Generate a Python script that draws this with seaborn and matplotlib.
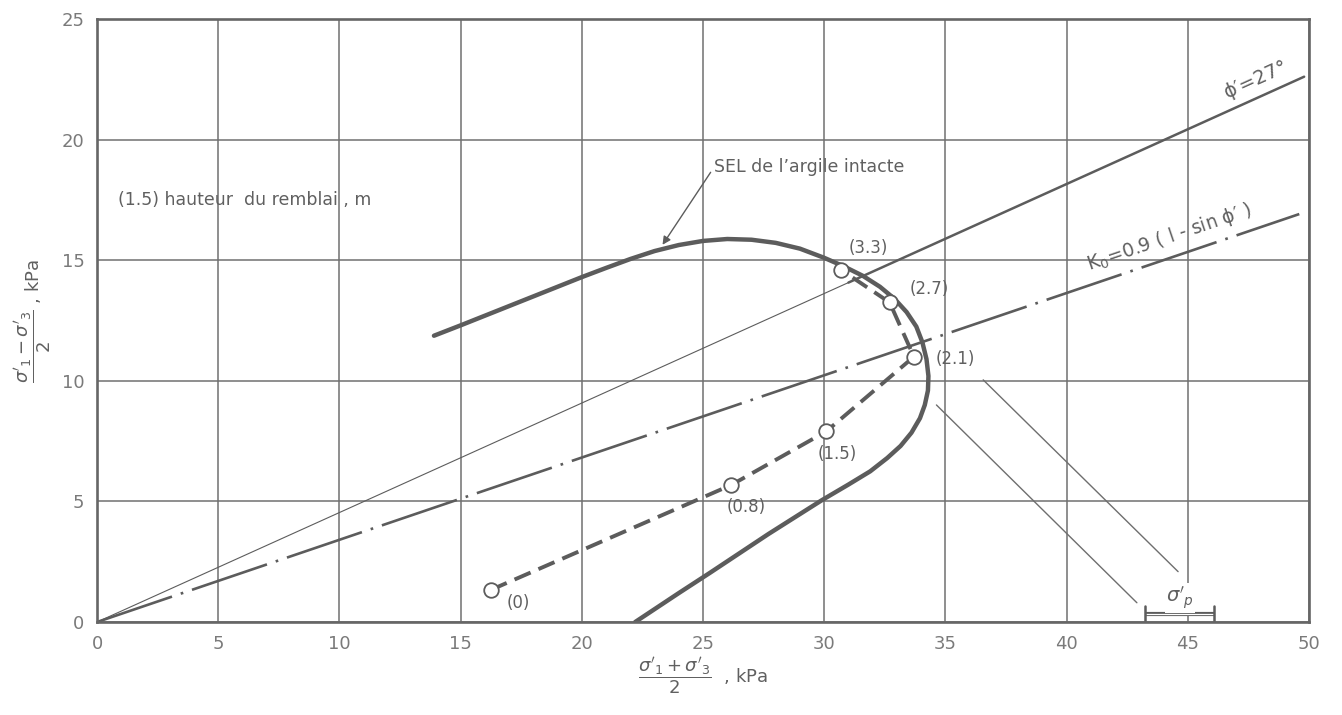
import numpy as np
import pandas as pd
import matplotlib
matplotlib.use("Agg")
import matplotlib.pyplot as plt
import seaborn as sns

# --- data (kPa) -------------------------------------------------------------
# limit state envelope of the intact clay (s', t')
sel_s = [13.9, 15.0, 16.0, 17.0, 18.0, 19.0, 20.0, 21.0, 22.0, 23.0, 24.0, 25.0,
         26.0, 27.0, 28.0, 29.0, 30.0, 30.8, 31.6, 32.3, 32.9, 33.4, 33.8, 34.05,
         34.22, 34.3, 34.28, 34.15, 33.95, 33.6, 33.15, 32.6, 31.9, 31.0, 29.9,
         28.8, 27.7, 26.5, 25.3, 24.0, 22.2]
sel_t = [11.87, 12.3, 12.7, 13.1, 13.5, 13.9, 14.3, 14.68, 15.05, 15.38, 15.63, 15.8,
         15.88, 15.85, 15.72, 15.48, 15.1, 14.75, 14.35, 13.9, 13.4, 12.85, 12.25, 11.6,
         10.9, 10.2, 9.6, 9.0, 8.45, 7.85, 7.3, 6.8, 6.25, 5.7, 5.05,
         4.35, 3.65, 2.85, 2.05, 1.2, 0.0]

# effective stress path under the embankment
path_s = [16.24, 26.16, 30.08, 33.70, 32.70, 30.70]
path_t = [1.33, 5.68, 7.90, 11.00, 13.25, 14.60]
path_labels = ["(0)", "(0.8)", "(1.5)", "(2.1)", "(2.7)", "(3.3)"]
label_s = [17.4, 26.8, 30.55, 35.4, 34.35, 31.8]
label_t = [0.8, 4.75, 6.95, 10.9, 13.8, 15.5]

phi_deg = 27.0          # friction angle
k0_factor = 0.9         # K0 = 0.9 (1 - sin phi')
phi_s_thin_end = 31.0   # envelope drawn thin inside the SEL
phi_s_end = 49.8
k0_s_end = 49.6

# preconsolidation pressure range
sigp_lo, sigp_hi = 43.25, 46.1

x_ticks = [0, 5, 10, 15, 20, 25, 30, 35, 40, 45, 50]
y_ticks = [0, 5, 10, 15, 20, 25]

# --- style ------------------------------------------------------------------
sns.set_theme(style="white")
plt.rcParams["font.family"] = ["DejaVu Sans"]
plt.rcParams["mathtext.fontset"] = "dejavusans"

ink = "#5c5c5c"
soft = "#6e6e6e"
txt = "#606060"

fig = plt.figure(figsize=(13.42, 7.15), dpi=100)
ax = fig.add_axes([0.0723, 0.130, 0.9031, 0.8434])

ax.set_xlim(0, 50)
ax.set_ylim(0, 25)
ax.set_xticks(x_ticks)
ax.set_yticks(y_ticks)
ax.grid(True, color="#707070", lw=1.1)
ax.tick_params(length=0, labelsize=13, colors="#7a7a7a", pad=9)
for sp in ax.spines.values():
    sp.set_color("#666666")
    sp.set_linewidth(1.9)

sin_phi = np.sin(np.radians(phi_deg))
k0 = k0_factor * (1 - sin_phi)
k0_slope = (1 - k0) / (1 + k0)

# failure envelope phi' = 27 deg
env_thin = pd.DataFrame({"s": [0, phi_s_thin_end], "t": [0, phi_s_thin_end * sin_phi]})
env_thick = pd.DataFrame({"s": [phi_s_thin_end, phi_s_end],
                          "t": [phi_s_thin_end * sin_phi, phi_s_end * sin_phi]})
sns.lineplot(data=env_thin, x="s", y="t", ax=ax, color=ink, lw=0.8, sort=False, estimator=None)
sns.lineplot(data=env_thick, x="s", y="t", ax=ax, color=ink, lw=1.8, sort=False, estimator=None)

# K0 line
k0_df = pd.DataFrame({"s": [0, k0_s_end], "t": [0, k0_s_end * k0_slope]})
sns.lineplot(data=k0_df, x="s", y="t", ax=ax, color=ink, lw=1.9, sort=False,
             estimator=None, linestyle=(0, (30, 3.5, 1, 3.5)))

# SEL curve
sel_df = pd.DataFrame({"s": sel_s, "t": sel_t})
sns.lineplot(data=sel_df, x="s", y="t", ax=ax, color=ink, lw=3.2, sort=False,
             estimator=None, solid_joinstyle="round", solid_capstyle="round")

# stress path
path_df = pd.DataFrame({"s": path_s, "t": path_t})
sns.lineplot(data=path_df, x="s", y="t", ax=ax, color=ink, lw=2.8, sort=False,
             estimator=None, linestyle=(0, (4.5, 2.2)))
sns.scatterplot(data=path_df, x="s", y="t", ax=ax, s=110, facecolor="white",
                edgecolor=ink, linewidth=1.3, zorder=5)
for lab, xs, ys in zip(path_labels, label_s, label_t):
    ax.text(xs, ys, lab, fontsize=12, color=txt, ha="center", va="center")

# preconsolidation bracket and pointer lines
ax.plot([sigp_lo, sigp_hi], [0.33, 0.33], color=ink, lw=3.0, solid_capstyle="butt")
ax.plot([sigp_lo, sigp_hi], [0.33, 0.33], color="white", lw=0.9)
ax.plot([sigp_lo, sigp_lo], [0.05, 0.65], color=ink, lw=1.8)
ax.plot([sigp_hi, sigp_hi], [0.05, 0.65], color=ink, lw=1.8)
ax.text((sigp_lo + sigp_hi) / 2, 1.0, r"$\sigma'_p$", fontsize=14, color=txt,
        ha="center", va="center",
        bbox=dict(facecolor="white", edgecolor="none", pad=1))
ax.plot([36.56, 44.6], [10.04, 2.09], color=soft, lw=1.0)
ax.plot([34.63, 42.9], [9.0, 0.8], color=soft, lw=1.0)

# annotations
ax.annotate("SEL de l\u2019argile intacte", xy=(23.33, 15.64), xytext=(25.45, 18.85),
            fontsize=12.5, color=txt, ha="left", va="center",
            arrowprops=dict(arrowstyle="-|>", color=ink, lw=1.0,
                            mutation_scale=12, relpos=(0, 0.5), shrinkA=0, shrinkB=0))
ax.text(0.87, 17.5, "(1.5) hauteur  du remblai , m", fontsize=12.5, color=txt,
        ha="left", va="center")

ang_phi = np.degrees(np.arctan(sin_phi * (24.1 / 24.2)))
ax.text(46.7, 46.7 * sin_phi + 0.35, "\u03d5\u2032=27\u00b0", fontsize=14, color=txt,
        rotation=ang_phi, rotation_mode="anchor", ha="left", va="bottom")
ang_k0 = np.degrees(np.arctan(k0_slope * (24.1 / 24.2)))
ax.text(41.0, 41.0 * k0_slope + 0.35, "K$_0$=0.9 ( l - sin \u03d5\u2032 )", fontsize=13.5,
        color=txt, rotation=ang_k0, rotation_mode="anchor", ha="left", va="bottom")

ax.set_xlabel(r"$\dfrac{\sigma'_1+\sigma'_3}{2}$  , kPa", fontsize=13, color=txt, labelpad=2)
ax.set_ylabel(r"$\dfrac{\sigma'_1-\sigma'_3}{2}$ , kPa", fontsize=13, color=txt, labelpad=6)

fig.savefig("out.png", dpi=100)
